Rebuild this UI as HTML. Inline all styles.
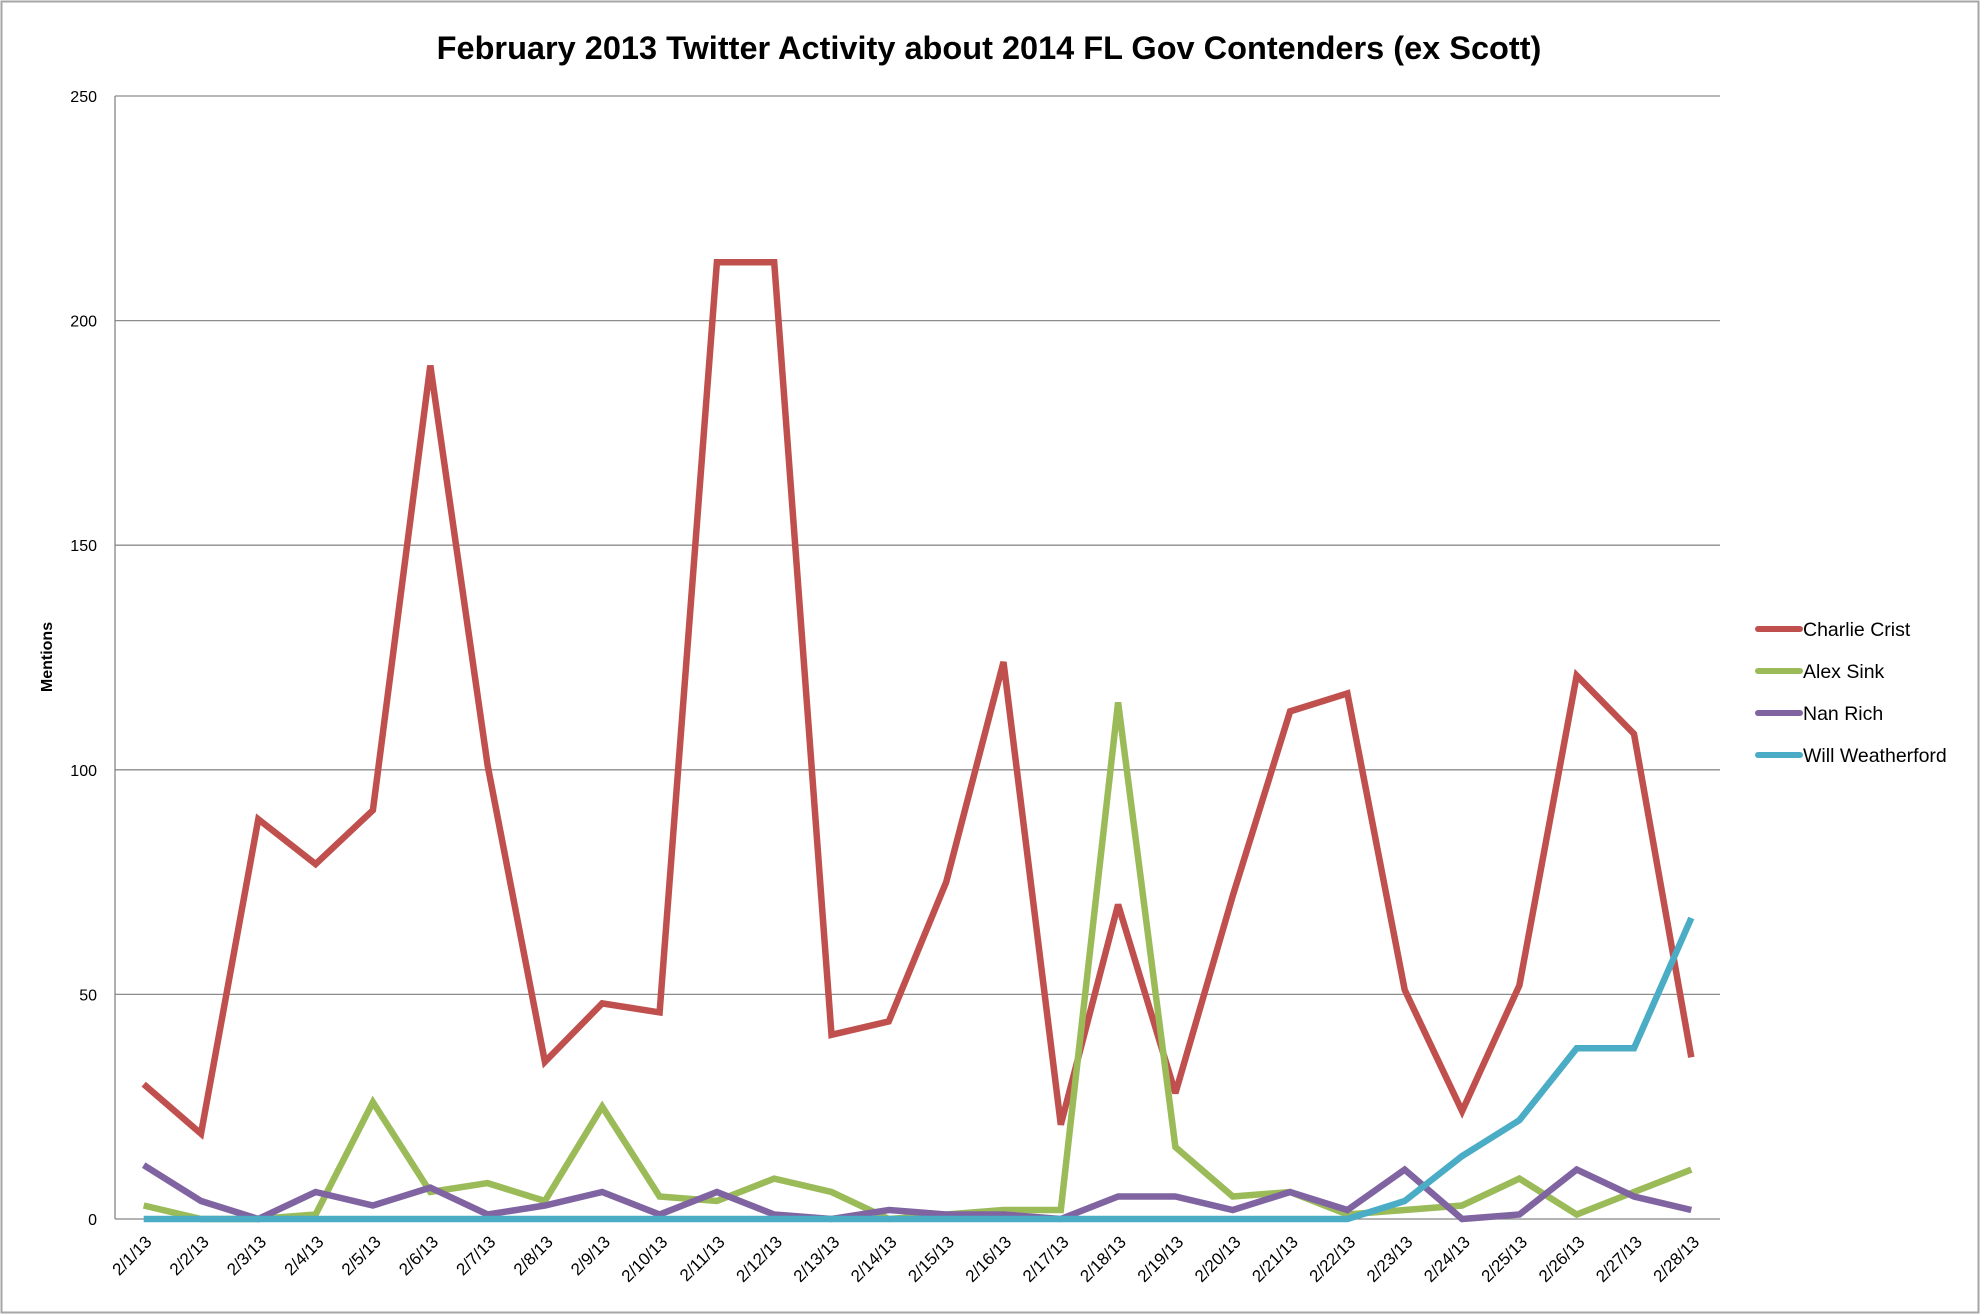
<!DOCTYPE html>
<html><head><meta charset="utf-8"><style>
body{margin:0;background:#fff;}
svg{display:block;font-family:"Liberation Sans",sans-serif;}
</style></head><body>
<svg id="chart" width="1980" height="1315" viewBox="0 0 1980 1315" xmlns="http://www.w3.org/2000/svg">
<rect x="1.5" y="1.5" width="1977" height="1311" fill="#fff" stroke="#a6a6a6" stroke-width="2"/>
<text x="989" y="59" text-anchor="middle" font-size="32.5" font-weight="bold" fill="#000">February 2013 Twitter Activity about 2014 FL Gov Contenders (ex Scott)</text>
<text transform="translate(52,657) rotate(-90)" text-anchor="middle" font-size="16" font-weight="bold">Mentions</text>
<g id="grid"></g><g id="series"></g><g id="xlabels"></g><g id="legend"></g>
</svg>
<script>
const categories=["2/1/13","2/2/13","2/3/13","2/4/13","2/5/13","2/6/13","2/7/13","2/8/13","2/9/13","2/10/13","2/11/13","2/12/13","2/13/13","2/14/13","2/15/13","2/16/13","2/17/13","2/18/13","2/19/13","2/20/13","2/21/13","2/22/13","2/23/13","2/24/13","2/25/13","2/26/13","2/27/13","2/28/13"];
const charlieCrist=[30,19,89,79,91,190,101,35,48,46,213,213,41,44,75,124,21,70,28,72,113,117,51,24,52,121,108,36];
const alexSink=[3,0,0,1,26,6,8,4,25,5,4,9,6,0,1,2,2,115,16,5,6,1,2,3,9,1,6,11];
const nanRich=[12,4,0,6,3,7,1,3,6,1,6,1,0,2,1,1,0,5,5,2,6,2,11,0,1,11,5,2];
const willWeatherford=[0,0,0,0,0,0,0,0,0,0,0,0,0,0,0,0,0,0,0,0,0,0,4,14,22,38,38,67];
const seriesNames=["Charlie Crist","Alex Sink","Nan Rich","Will Weatherford"];
const yTicks=[0,50,100,150,200,250];
const colors=["#C0504D","#9BBB59","#8064A2","#4BACC6"];
const L=115,R=1720,T=96,B=1219,yMax=250;
const NS="http://www.w3.org/2000/svg";
const band=(R-L)/categories.length;
const xScale=i=>L+band*(i+0.5);
const yScale=v=>B-(v/yMax)*(B-T);
function mk(tag,attrs,parent){const e=document.createElementNS(NS,tag);for(const k in attrs)e.setAttribute(k,attrs[k]);parent.appendChild(e);return e;}
const grid=document.getElementById('grid');
yTicks.forEach(t=>{
  const y=yScale(t);
  const ln=mk('line',{x1:L,x2:R,y1:y,y2:y,stroke:t===0?'#868686':'#8c8c8c','stroke-width':1.3},grid);
  
  
  const tx=mk('text',{x:97,y:y+6,'text-anchor':'end','font-size':16},grid);
  tx.textContent=t;
  
  
});
const ax=mk('line',{x1:L,x2:L,y1:T,y2:B,stroke:'#868686','stroke-width':1.3},grid);


const xl=document.getElementById('xlabels');
categories.forEach((c,i)=>{
  const x=xScale(i)+9,y=B+24;
  const tx=mk('text',{transform:`translate(${x},${y}) rotate(-45)`,'text-anchor':'end','font-size':17},xl);
  tx.textContent=c;
  
  
});
const sg=document.getElementById('series');
[charlieCrist,alexSink,nanRich,willWeatherford].forEach((arr,s)=>{
  const pts=arr.map((v,i)=>xScale(i).toFixed(1)+','+yScale(v).toFixed(1)).join(' ');
  const pl=mk('polyline',{points:pts,fill:'none',stroke:colors[s],'stroke-width':6.5,'stroke-linejoin':'miter','stroke-miterlimit':3},sg);
  
  
});
const lg=document.getElementById('legend');
seriesNames.forEach((n,s)=>{
  const y=629+s*42;
  const g=mk('g',{},lg);
  
  
  mk('line',{x1:1758,x2:1800,y1:y,y2:y,stroke:colors[s],'stroke-width':6,'stroke-linecap':'round'},g);
  const t=mk('text',{x:1803,y:y+7,'font-size':19.5},g);
  t.textContent=n;
});
</script>
</body></html>
